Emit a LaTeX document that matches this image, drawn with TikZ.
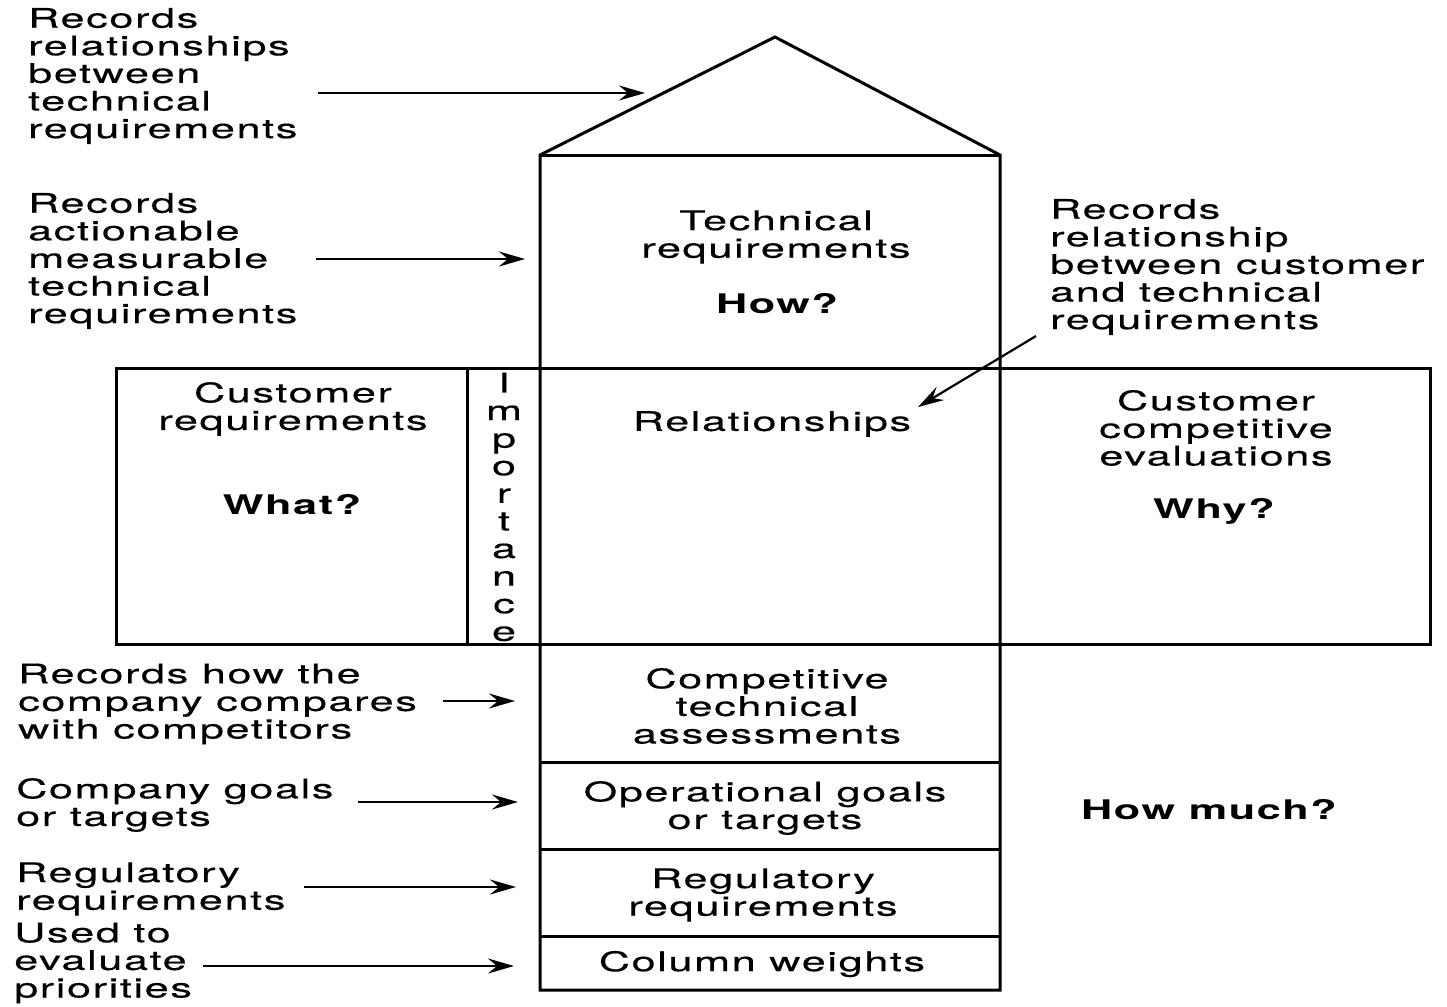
\documentclass[tikz,border=0pt]{standalone}
\usepackage{fontspec}
\setmainfont{TeX Gyre Heros}[FakeStretch=1.6,LetterSpace=6,UprightFeatures={FakeBold=0.4}]
\usetikzlibrary{arrows.meta}
\begin{document}
\begin{tikzpicture}[x=1pt,y=-1pt,
  box/.style={line width=3pt, line join=miter},
  arr/.style={line width=2.2pt,-{Stealth[length=26pt,width=15pt,inset=9pt]}},
  lbl/.style={inner sep=0pt, font=\fontsize{27}{27.6}\selectfont},
  ttl/.style={lbl, align=center},
  bld/.style={inner sep=0pt, font=\fontsize{27}{27.6}\selectfont\bfseries}]
\useasboundingbox (0,0) rectangle (1447,1006);
% house outline
\draw[box] (540,990) -- (540,155) -- (775,37) -- (1000,155) -- (1000,990) -- cycle;
\draw[box] (540,155) -- (1000,155);
\draw[box] (116,368) rectangle (1430,644);
\draw[box] (467,368) -- (467,644);
\draw[box] (540,762) -- (1000,762);
\draw[box] (540,849) -- (1000,849);
\draw[box] (540,936) -- (1000,936);
% box texts
\node[ttl] (tr) at (776,237) {Technical\\requirements};
\node[bld] (how) at (777,304) {How?};
\node[ttl] (cr) at (293,409) {Customer\\requirements};
\node[bld] (what) at (292,505) {What?};
\node[ttl] (imp) at (504,507) {I\\m\\p\\o\\r\\t\\a\\n\\c\\e};
\node[lbl] (rel) at (772,424) {Relationships};
\node[ttl] (cce) at (1216,428) {Customer\\competitive\\evaluations};
\node[bld] (why) at (1214,511) {Why?};
\node[ttl] (cta) at (767,706) {Competitive\\technical\\assessments};
\node[ttl] (og) at (765,808) {Operational goals\\or targets};
\node[ttl] (rr) at (763,895) {Regulatory\\requirements};
\node[lbl] (cw) at (762,964) {Column weights};
\node[bld] (hm) at (1209,810) {How much?};
% annotations
\node[lbl, align=left, anchor=west] (a1) at (28,76) {Records\\relationships\\between\\technical\\requirements};
\node[lbl, align=left, anchor=west] (a2) at (28,261) {Records\\actionable\\measurable\\technical\\requirements};
\node[lbl, align=left, anchor=west] (a3) at (18,704) {Records how the\\company compares\\with competitors};
\node[lbl, align=left, anchor=west] (a4) at (16,805) {Company goals\\or targets};
\node[lbl, align=left, anchor=west] (a5) at (16,889) {Regulatory\\requirements};
\node[lbl, align=left, anchor=west] (a6) at (14,963) {Used to\\evaluate\\priorities};
\node[lbl, align=left, anchor=west] (r1) at (1050,267) {Records\\relationship\\between customer\\and technical\\requirements};
% arrow ends
\coordinate (t1) at (318,93);  \coordinate (h1) at (645,93);
\coordinate (t2) at (316,259); \coordinate (h2) at (525,259);
\coordinate (t3) at (443,701); \coordinate (h3) at (515,701);
\coordinate (t4) at (358,802); \coordinate (h4) at (518,802);
\coordinate (t5) at (304,887); \coordinate (h5) at (516,887);
\coordinate (t6) at (203,966); \coordinate (h6) at (514,966);
\coordinate (t7) at (1036,336); \coordinate (h7) at (918,407);
\draw[arr] (t1) -- (h1);
\draw[arr] (t2) -- (h2);
\draw[arr] (t3) -- (h3);
\draw[arr] (t4) -- (h4);
\draw[arr] (t5) -- (h5);
\draw[arr] (t6) -- (h6);
\draw[arr] (t7) -- (h7);
\end{tikzpicture}
\end{document}
